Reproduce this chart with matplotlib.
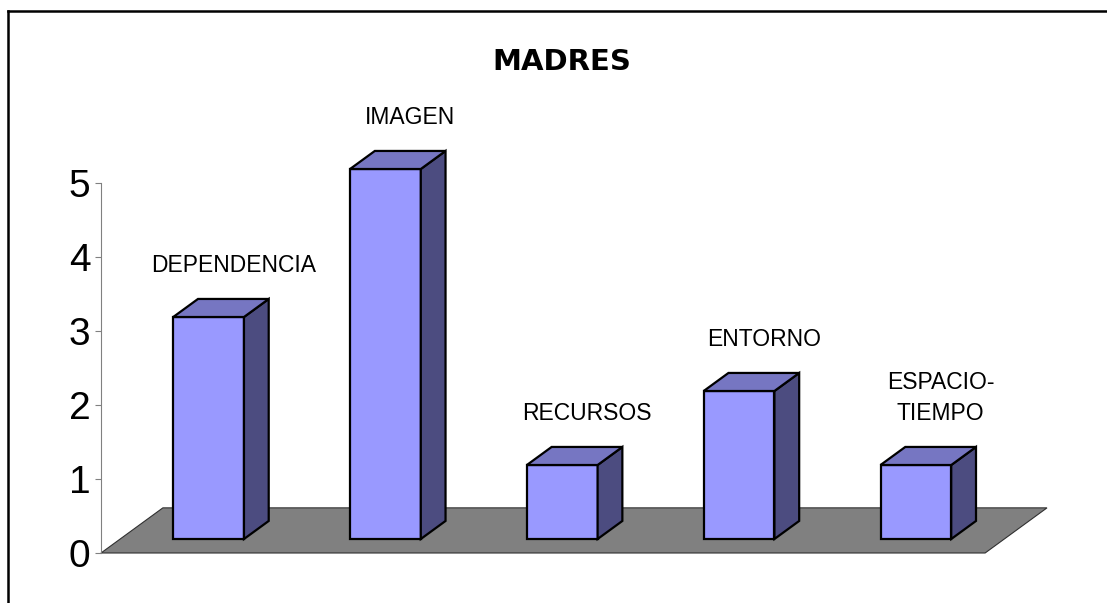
import matplotlib.pyplot as plt
from matplotlib.patches import Polygon
from matplotlib.lines import Line2D

plt.rcParams['font.family'] = ['Liberation Sans', 'DejaVu Sans']

# datos
categorias = ["DEPENDENCIA", "IMAGEN", "RECURSOS", "ENTORNO", "ESPACIO-\nTIEMPO"]
valores = [3, 5, 1, 2, 1]
yticks = [0, 1, 2, 3, 4, 5]

# colores estilo excel 3D
c_frente = "#9999FF"
c_arriba = "#7676C2"
c_lado = "#4C4C80"
c_suelo = "#808080"

# profundidad (en unidades de datos)
ddx = 0.35
ddy = 0.61
f0, f1 = 0.31, 0.71   # posicion de la barra en la profundidad
ancho = 0.4

fig = plt.figure(figsize=(11.07, 6.03), dpi=100)
ax = fig.add_axes([101/1107, 50/603, 946/1107, 370/603])
n = len(valores)
ax.set_xlim(0, n + ddx)
ax.set_ylim(0, 5)

# suelo
suelo = Polygon([(0, 0), (n, 0), (n + ddx, ddy), (ddx, ddy)], closed=True,
                facecolor=c_suelo, edgecolor="#303030", lw=0.8, clip_on=False, zorder=1)
ax.add_patch(suelo)

for i, (cat, v) in enumerate(zip(categorias, valores)):
    x0 = i + 0.5 - ancho/2 + f0*ddx
    x1 = x0 + ancho
    y0 = f0*ddy
    y1 = y0 + v
    sx = (f1 - f0)*ddx
    sy = (f1 - f0)*ddy
    frente = Polygon([(x0, y0), (x1, y0), (x1, y1), (x0, y1)])
    lado = Polygon([(x1, y0), (x1 + sx, y0 + sy), (x1 + sx, y1 + sy), (x1, y1)])
    arriba = Polygon([(x0, y1), (x1, y1), (x1 + sx, y1 + sy), (x0 + sx, y1 + sy)])
    for p, c in [(frente, c_frente), (lado, c_lado), (arriba, c_arriba)]:
        p.set_facecolor(c)
        p.set_edgecolor("black")
        p.set_linewidth(1.6)
        p.set_clip_on(False)
        p.set_zorder(2 + i)
        ax.add_patch(p)
    # etiqueta
    ax.annotate(cat, (i + 0.5 + f1*ddx, y1 + sy), xytext=(0, 16), textcoords="offset points",
                ha="center", va="bottom", fontsize=16.5, linespacing=1.45,
                multialignment="center", annotation_clip=False, zorder=10)

ax.set_yticks(yticks)
ax.set_xticks([])
ax.tick_params(axis="y", length=4.5, width=0.8, color="#808080", pad=3, labelsize=28)
for s in ["top", "right", "bottom"]:
    ax.spines[s].set_visible(False)
ax.spines["left"].set_color("#808080")
ax.spines["left"].set_linewidth(0.8)
ax.patch.set_visible(False)

fig.text(562/1107, 1 - 62/603, "MADRES", ha="center", va="center",
         fontsize=21, fontweight="bold", family="DejaVu Sans")

# marco
fig.add_artist(Line2D([8/1107, 8/1107], [0, 1 - 11/603], color="black", lw=1.8))
fig.add_artist(Line2D([8/1107, 1], [1 - 11/603, 1 - 11/603], color="black", lw=1.8))

fig.savefig("out.png", dpi=100)
